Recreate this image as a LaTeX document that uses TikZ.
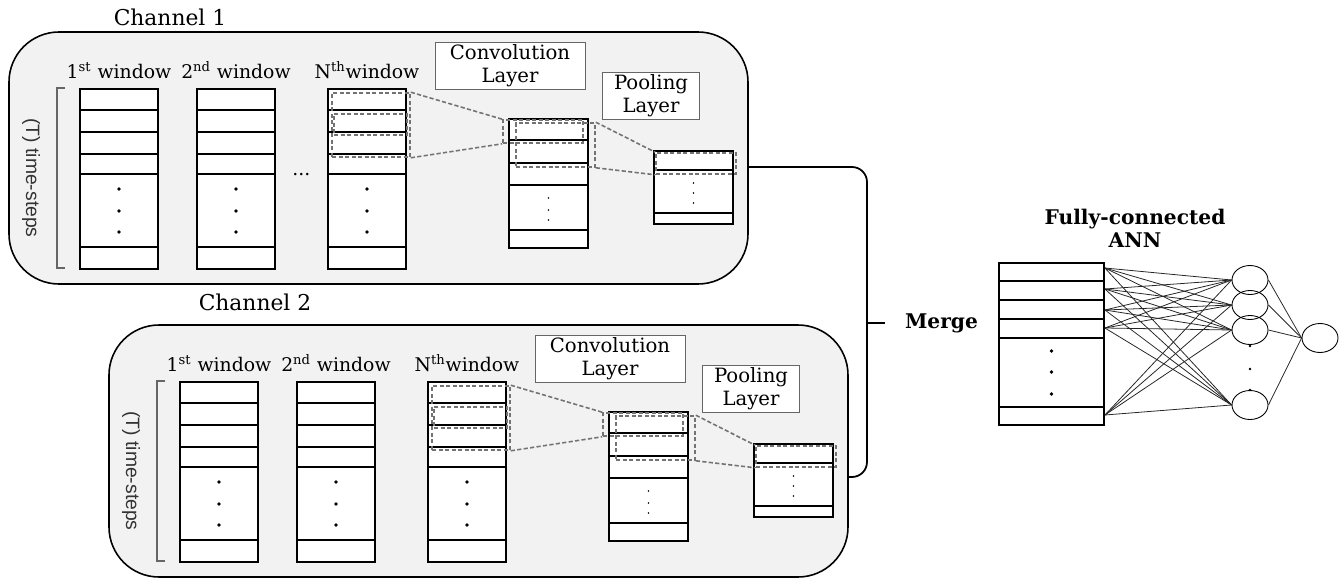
\documentclass[tikz,border=0pt]{standalone}
\usepackage{fontspec}
\setmainfont{DejaVu Serif}
\setsansfont{Liberation Sans}
\usepackage{tikz}
\usetikzlibrary{calc, positioning, fit, shapes.geometric}
\tikzset{
    chan/.style={rectangle, draw=black, line width=0.9pt, fill=black!5, rounded corners=1cm, inner sep=0pt},
    win/.style={rectangle, draw=black, line width=1.1pt, fill=white, anchor=north west, inner sep=0pt, minimum width=1.56cm, minimum height=3.6cm},
    convmap/.style={win, minimum width=1.58cm, minimum height=2.58cm},
    poolmap/.style={win, minimum width=1.58cm, minimum height=1.46cm},
    annin/.style={win, minimum width=2.1cm, minimum height=3.24cm},
    title/.style={font=\fontsize{12.4}{14}\selectfont, inner sep=1pt},
    lbl/.style={font=\fontsize{10.7}{13}\selectfont, inner sep=1pt},
    head/.style={font=\fontsize{11.5}{13}\selectfont\bfseries, align=center, inner sep=1pt},
    layer/.style={rectangle, draw=black!60, fill=white, align=center, inner sep=0pt, minimum height=0.94cm, font=\fontsize{11.2}{13}\selectfont},
    tsteps/.style={font=\sffamily\fontsize{11}{12}\selectfont, text=black!80, rotate=-90},
    kern/.style={draw=black!55, line width=0.9pt, dash pattern=on 2.4pt off 1.3pt, inner sep=0pt},
    link/.style={draw=black!55, line width=0.9pt, dash pattern=on 2.4pt off 1.3pt},
    merge/.style={draw=black, line width=1pt, rounded corners=0.3cm},
    neuron/.style={ellipse, draw=black, line width=0.5pt, minimum width=0.72cm, minimum height=0.58cm, inner sep=0pt},
    syn/.style={draw=black!85, line width=0.45pt}
}
\newcommand{\rowlines}[2]{\foreach \d in {#2} \draw[line width=1.1pt] ($(#1.north west)+(0,-\d)$) -- ($(#1.north east)+(0,-\d)$);}
\newcommand{\celldots}[3]{\foreach \d in {#3} \fill ($(#1.north)+(0,-\d)$) circle (#2);}

\begin{document}
\begin{tikzpicture}[x=0.02cm, y=0.02cm]
    \useasboundingbox (0,0) rectangle (1343,-585);

    % the two input channels
    \foreach \ch/\dx/\dy/\lx/\ly in {1/0/0/170/-17, 2/100/-293/155/-9}{
    \begin{scope}[shift={(\dx,\dy)}]
        \node[chan, fit={(9,-32) (748,-284)}] (box\ch) {};
        \node[title] (ttl\ch) at (\lx,\ly) {Channel \ch};

        \node[win] (wa\ch) at (79,-88) {};
        \node[win] (wb\ch) at (196,-88) {};
        \node[win] (wn\ch) at (327,-88) {};
        \foreach \w in {wa,wb,wn}{
            \rowlines{\w\ch}{22,44,66,86,159}
            \celldots{\w\ch}{1.1pt}{101,123,144}
        }
        \node[lbl, above=0.15cm of wa\ch] (la\ch) {1\textsuperscript{st} window};
        \node[lbl, above=0.15cm of wb\ch] (lb\ch) {2\textsuperscript{nd} window};
        \node[lbl, above=0.15cm of wn\ch] (ln\ch) {N\textsuperscript{th}window};

        \draw[black!60, line width=0.8pt] (65,-88) -| (57,-268) -- (65,-268);
        \node[tsteps] (ts\ch) at (31,-178) {(T) time-steps};

        % convolution and pooling
        \node[convmap] (cv\ch) at (508,-118) {};
        \rowlines{cv\ch}{22,45,67,112}
        \celldots{cv\ch}{0.5pt}{80,92,102}
        \node[poolmap] (pl\ch) at (653,-150) {};
        \rowlines{pl\ch}{20,63}
        \celldots{pl\ch}{0.5pt}{33,43,53}

        \node[layer, minimum width=3cm] (lc\ch) at (510,-66) {Convolution\\Layer};
        \node[layer, minimum width=1.94cm] (lp\ch) at (651,-96) {Pooling\\Layer};

        \node[kern, fit={(332,-93) (410,-157)}] (kw\ch) {};
        \node[kern, fit={(334,-114) (407,-135)}] (kwi\ch) {};
        \node[kern, fit={(503,-120) (583,-143)}] (kc\ch) {};
        \node[kern, fit={(516,-123) (595,-167)}] (kcp\ch) {};
        \node[kern, fit={(656,-153) (736,-174)}] (kpl\ch) {};

        \draw[link] (kw\ch.north east) -- (kc\ch.north west);
        \draw[link] (kw\ch.south east) -- (kc\ch.south west);
        \draw[link] (kcp\ch.north east) -- (kpl\ch.north west);
        \draw[link] (kcp\ch.south east) -- (kpl\ch.south west);
    \end{scope}
    }
    \node[lbl] (more) at ($(wb1.east)!0.5!(wn1.west)+(0,4)$) {...};

    % merge
    \coordinate (mg) at (867,-323);
    \draw[merge] ([yshift=-0.18cm]box1.east) -| (mg) |- ([yshift=-0.52cm]box2.east);
    \draw[merge] (mg) -- ++(18,0) coordinate (mgt);
    \node[head, right=0.36cm of mgt] (merge) {Merge};

    % fully-connected part
    \node[annin] (ann) at (998,-262) {};
    \rowlines{ann}{19,38,57,76,145}
    \celldots{ann}{1.1pt}{89,110,132}
    \node[head] (fc) at (1135,-228) {Fully-connected\\ANN};

    \foreach \i/\y in {1/280,2/305,3/330,4/405}
        \node[neuron] (h\i) at (1250,-\y) {};
    \node[neuron] (out) at (1320,-338) {};
    \foreach \y in {346,369,390}
        \fill (1250,-\y) circle (0.8pt);

    \foreach \k/\d in {1/6,2/27,3/48,4/66,5/153}
        \coordinate (in\k) at ($(ann.north east)+(0,-\d)$);
    \foreach \k in {1,...,5}
        \foreach \i in {1,...,4}
            \draw[syn] (in\k) -- (h\i.west);
    \foreach \i in {1,...,4}
        \draw[syn] (h\i.east) -- (out.west);
\end{tikzpicture}
\end{document}
